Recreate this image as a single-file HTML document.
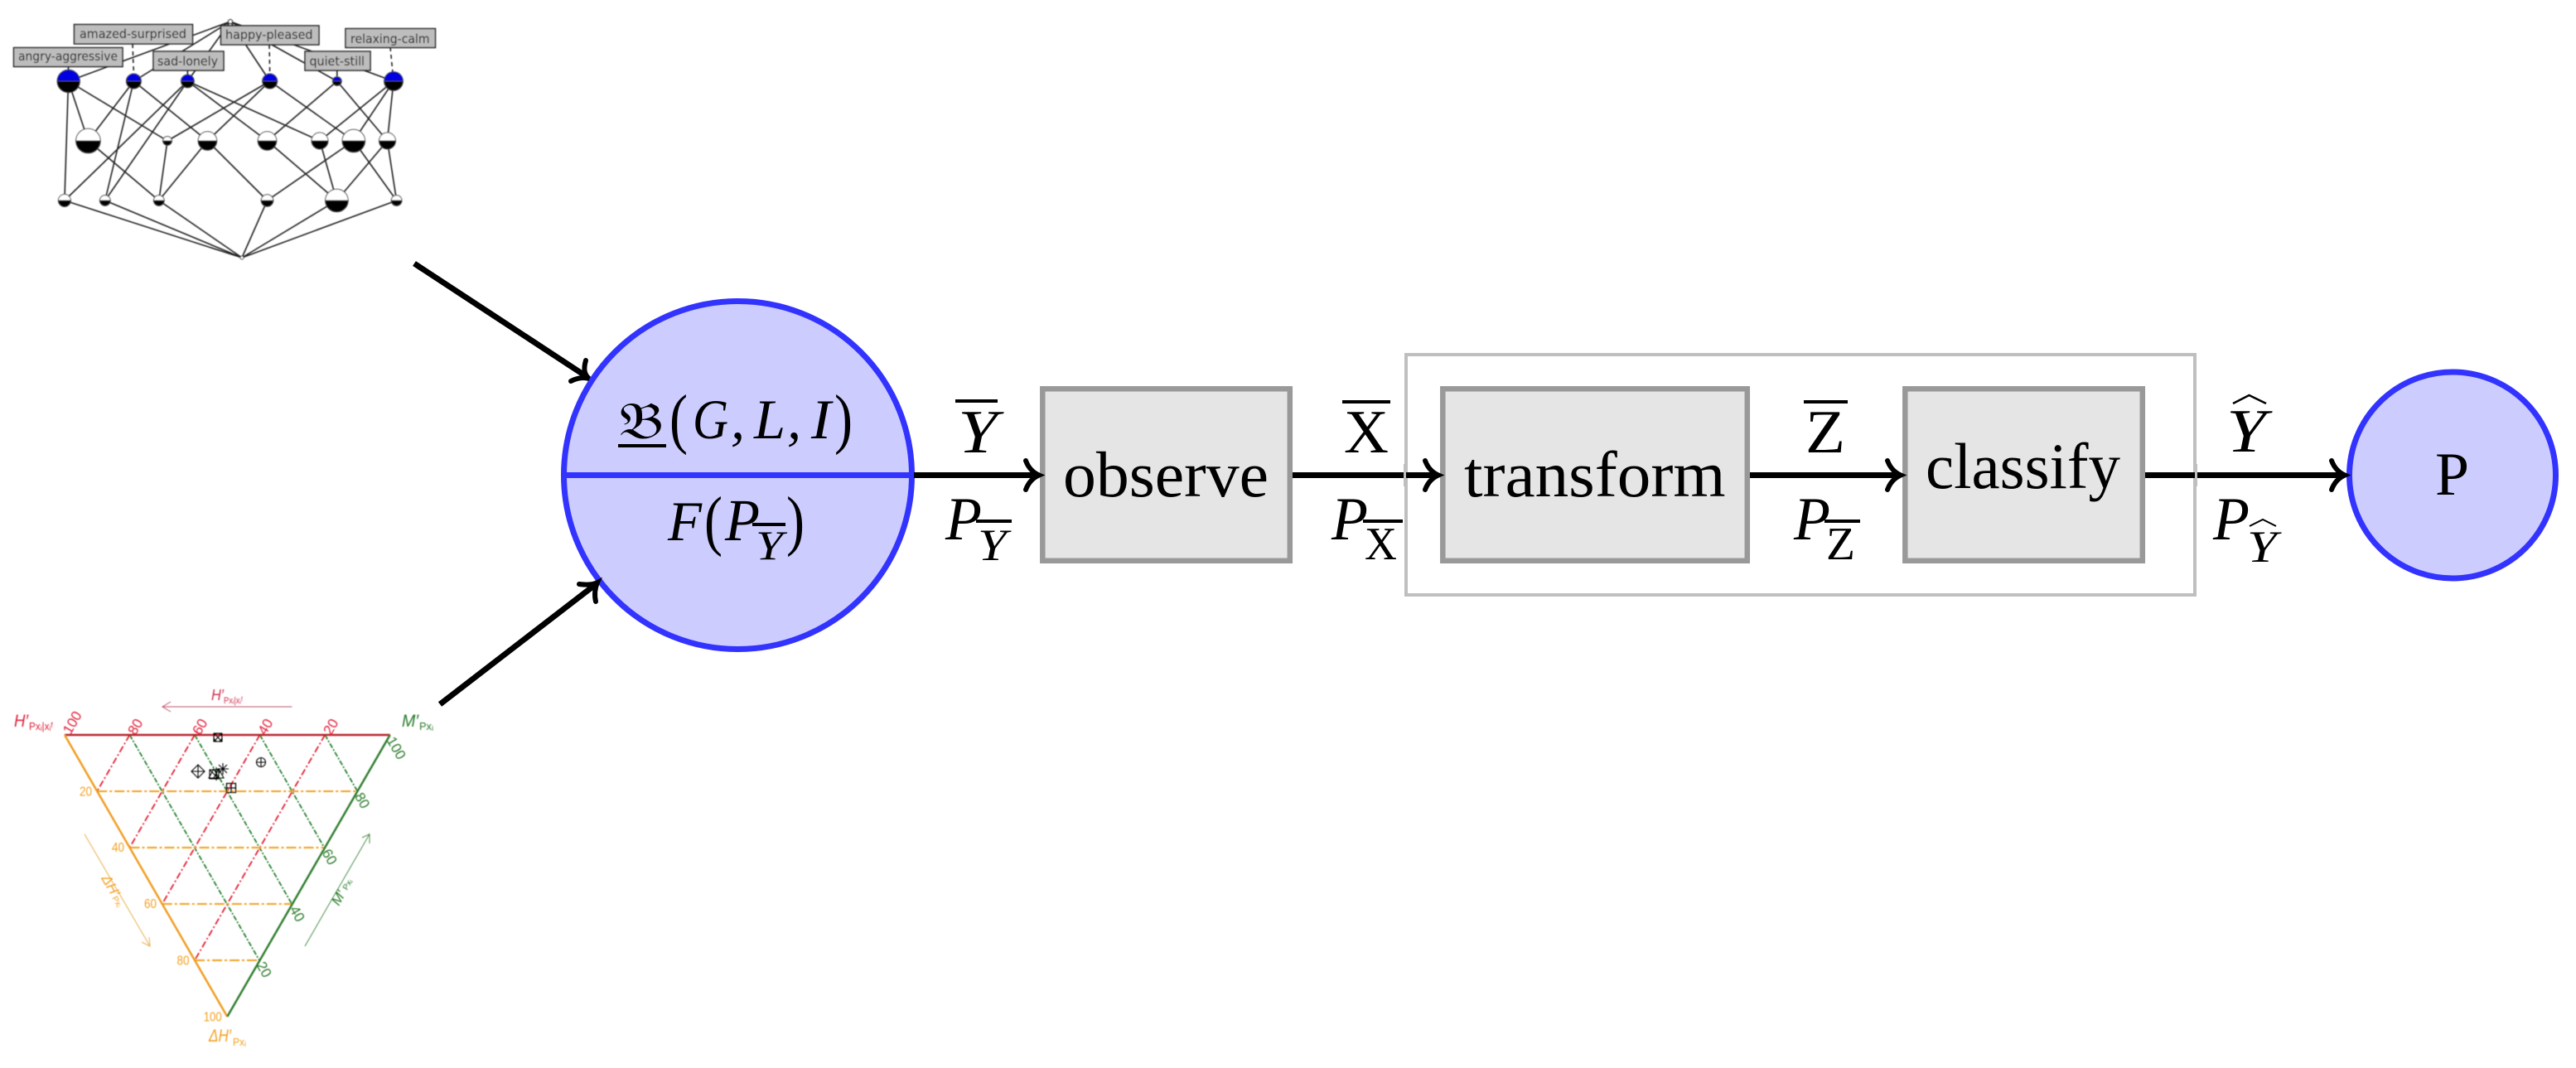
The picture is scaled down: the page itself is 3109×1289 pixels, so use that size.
<!DOCTYPE html>
<html><head><meta charset="utf-8"><style>
html,body{margin:0;padding:0;background:#fff}
svg{display:block}
.m{font-family:"Liberation Serif",serif;font-style:italic;fill:#000}
.r{font-family:"Liberation Serif",serif;fill:#000}
.l{font-family:"DejaVu Sans","Liberation Sans",sans-serif;font-size:15.5px;fill:#111}
.s{font-family:"Liberation Sans",sans-serif}
.si{font-family:"Liberation Sans",sans-serif;font-style:italic}
</style></head><body>
<svg xmlns="http://www.w3.org/2000/svg" width="3109" height="1289" viewBox="0 0 3109 1289">
<defs><filter id="b" x="-5%" y="-5%" width="110%" height="110%"><feGaussianBlur stdDeviation="0.45"/></filter></defs>
<rect width="3109" height="1289" fill="#fff"/>

<!-- lattice -->
<g filter="url(#b)">
<g stroke="#222" stroke-width="1.6" fill="none">
<path d="M278 26L82.5 98M278 26L161.4 98M278 26L226.4 98M278 26L325.7 98M278 26L406.8 98M278 26L475 98"/>
<path d="M82.5 98L106.4 170M82.5 98L77.9 242M82.5 98L202 170M161.4 98L106.4 170M161.4 98L126.8 242M161.4 98L250.4 170M226.4 98L77.9 242M226.4 98L126.8 242M226.4 98L322.5 170M226.4 98L386 170M325.7 98L202 170M325.7 98L250.4 170M325.7 98L426.8 170M406.8 98L322.5 170M406.8 98L467.5 170M475 98L386 170M475 98L426.8 170M475 98L467.5 170"/>
<path d="M106.4 170L191.8 242M202 170L191.8 242M250.4 170L191.8 242M250.4 170L322.5 242M322.5 170L406.4 242M386 170L406.4 242M426.8 170L322.5 242M467.5 170L406.4 242M426.8 170L478.6 242M467.5 170L478.6 242"/>
<path d="M77.9 242L292 311M126.8 242L292 311M191.8 242L292 311M322.5 242L292 311M406.4 242L292 311M478.6 242L292 311"/>
<path d="M82.5 80V86M226.4 85V90M406.8 85V92"/>
<path stroke-dasharray="5 4" d="M160 53L161.4 90M325 54L325.7 90M471 57L474 88"/>
</g>
<circle cx="278" cy="26" r="2.5" fill="#fff" stroke="#333" stroke-width="1.2"/>
<circle cx="292" cy="311" r="2" fill="#fff" stroke="#333" stroke-width="1"/>
<!-- top row: blue/black -->
<g stroke="#444" stroke-width="1">
<path d="M69 98a13.7 13.7 0 0 1 27.4 0z" fill="#0000e0"/><path d="M69 98a13.7 13.7 0 0 0 27.4 0z" fill="#000"/>
<path d="M152.4 98a9 9 0 0 1 18 0z" fill="#0000e0"/><path d="M152.4 98a9 9 0 0 0 18 0z" fill="#000"/>
<path d="M218.5 98a7.9 7.9 0 0 1 15.8 0z" fill="#0000e0"/><path d="M218.5 98a7.9 7.9 0 0 0 15.8 0z" fill="#000"/>
<path d="M316.7 98a9 9 0 0 1 18 0z" fill="#0000e0"/><path d="M316.7 98a9 9 0 0 0 18 0z" fill="#000"/>
<path d="M401.4 98a5.4 5.4 0 0 1 10.8 0z" fill="#0000e0"/><path d="M401.4 98a5.4 5.4 0 0 0 10.8 0z" fill="#000"/>
<path d="M463.6 98a11.4 11.4 0 0 1 22.8 0z" fill="#0000e0"/><path d="M463.6 98a11.4 11.4 0 0 0 22.8 0z" fill="#000"/>
<!-- mid row -->
<path d="M91.6 170a14.8 14.8 0 0 1 29.6 0z" fill="#fff"/><path d="M91.6 170a14.8 14.8 0 0 0 29.6 0z" fill="#000"/>
<path d="M196.6 170a5.4 5.4 0 0 1 10.8 0z" fill="#fff"/><path d="M196.6 170a5.4 5.4 0 0 0 10.8 0z" fill="#000"/>
<path d="M239.1 170a11.3 11.3 0 0 1 22.6 0z" fill="#fff"/><path d="M239.1 170a11.3 11.3 0 0 0 22.6 0z" fill="#000"/>
<path d="M311.2 170a11.3 11.3 0 0 1 22.6 0z" fill="#fff"/><path d="M311.2 170a11.3 11.3 0 0 0 22.6 0z" fill="#000"/>
<path d="M376 170a10 10 0 0 1 20 0z" fill="#fff"/><path d="M376 170a10 10 0 0 0 20 0z" fill="#000"/>
<path d="M413 170a13.8 13.8 0 0 1 27.6 0z" fill="#fff"/><path d="M413 170a13.8 13.8 0 0 0 27.6 0z" fill="#000"/>
<path d="M457.5 170a10 10 0 0 1 20 0z" fill="#fff"/><path d="M457.5 170a10 10 0 0 0 20 0z" fill="#000"/>
<!-- bottom row -->
<path d="M70.4 242a7.5 7.5 0 0 1 15 0z" fill="#fff"/><path d="M70.4 242a7.5 7.5 0 0 0 15 0z" fill="#000"/>
<path d="M120.4 242a6.4 6.4 0 0 1 12.8 0z" fill="#fff"/><path d="M120.4 242a6.4 6.4 0 0 0 12.8 0z" fill="#000"/>
<path d="M185.4 242a6.4 6.4 0 0 1 12.8 0z" fill="#fff"/><path d="M185.4 242a6.4 6.4 0 0 0 12.8 0z" fill="#000"/>
<path d="M315.2 242a7.3 7.3 0 0 1 14.6 0z" fill="#fff"/><path d="M315.2 242a7.3 7.3 0 0 0 14.6 0z" fill="#000"/>
<path d="M392.6 242a13.8 13.8 0 0 1 27.6 0z" fill="#fff"/><path d="M392.6 242a13.8 13.8 0 0 0 27.6 0z" fill="#000"/>
<path d="M472.2 242a6.4 6.4 0 0 1 12.8 0z" fill="#fff"/><path d="M472.2 242a6.4 6.4 0 0 0 12.8 0z" fill="#000"/>
</g>
<g fill="#bdbdbd" stroke="#222" stroke-width="1.5">
<rect x="89.5" y="29.5" width="143" height="23.5"/>
<rect x="16.5" y="57.5" width="131.5" height="23"/>
<rect x="185" y="62" width="85" height="23"/>
<rect x="266.5" y="31" width="118.5" height="23"/>
<rect x="368" y="62" width="79" height="23"/>
<rect x="417" y="34.5" width="108.5" height="23"/>
</g>
<text class="l" x="96" y="46" textLength="129" lengthAdjust="spacingAndGlyphs">amazed-surprised</text>
<text class="l" x="22" y="73" textLength="120" lengthAdjust="spacingAndGlyphs">angry-aggressive</text>
<text class="l" x="190" y="79" textLength="73" lengthAdjust="spacingAndGlyphs">sad-lonely</text>
<text class="l" x="272" y="47" textLength="105.5" lengthAdjust="spacingAndGlyphs">happy-pleased</text>
<text class="l" x="373.5" y="79" textLength="66.5" lengthAdjust="spacingAndGlyphs">quiet-still</text>
<text class="l" x="423" y="52" textLength="95.6" lengthAdjust="spacingAndGlyphs">relaxing-calm</text>
</g>

<!-- ternary plot -->
<g filter="url(#b)">
<g fill="none" stroke-width="1.7">
<g stroke="#e0132c" stroke-dasharray="8 3 2 3">
<path d="M156.5 887L117.2 955M235 887L156.5 1023M313.6 887L195.8 1091M392.2 887L235 1159"/>
</g>
<g stroke="#1f7a28" stroke-dasharray="6 2 2 2">
<path d="M156.5 887L313 1159M235 887L352.2 1091M313.6 887L391.4 1023M392.2 887L431.4 955"/>
</g>
<g stroke="#f2a020" stroke-dasharray="12 3 3 3" stroke-width="2">
<path d="M117.2 955H431.4M156.5 1023H392M195.8 1091H352.8M235 1159H313.5"/>
</g>
<path d="M78 887H470.7" stroke="#b5232a" stroke-width="2.4"/>
<path d="M78 887L274.3 1227" stroke="#f09a1c" stroke-width="2.4"/>
<path d="M470.7 887L274.3 1227" stroke="#2b7a2b" stroke-width="2.4"/>
<path d="M352.5 853H196M206 847L196 853L206 859" stroke="#c0566a" stroke-width="1"/>
<path d="M102 1006.7L181 1142M180 1131L181 1142L171 1137" stroke="#e8b050" stroke-width="1"/>
<path d="M368 1142L446 1006.7M437 1011L446 1006.7L446 1018" stroke="#4e8f4e" stroke-width="1"/>
</g>
<g class="s" font-size="17" fill="#e0203a">
<text transform="translate(87 872) rotate(-60)" text-anchor="middle" dy="6">100</text>
<text transform="translate(163 877) rotate(-60)" text-anchor="middle" dy="6">80</text>
<text transform="translate(241 877) rotate(-60)" text-anchor="middle" dy="6">60</text>
<text transform="translate(320 877) rotate(-60)" text-anchor="middle" dy="6">40</text>
<text transform="translate(399 877) rotate(-60)" text-anchor="middle" dy="6">20</text>
</g>
<g class="s" font-size="17" fill="#2b7a2b">
<text transform="translate(478.6 902.7) rotate(60)" text-anchor="middle" dy="6">100</text>
<text transform="translate(437.5 966) rotate(60)" text-anchor="middle" dy="6">80</text>
<text transform="translate(398 1034) rotate(60)" text-anchor="middle" dy="6">60</text>
<text transform="translate(359 1102.7) rotate(60)" text-anchor="middle" dy="6">40</text>
<text transform="translate(319 1170) rotate(60)" text-anchor="middle" dy="6">20</text>
</g>
<g class="s" font-size="16" fill="#f2a020">
<text x="96" y="960.5" textLength="15" lengthAdjust="spacingAndGlyphs">20</text><text x="135" y="1028" textLength="15" lengthAdjust="spacingAndGlyphs">40</text><text x="174" y="1096" textLength="15" lengthAdjust="spacingAndGlyphs">60</text><text x="213.5" y="1164.5" textLength="15" lengthAdjust="spacingAndGlyphs">80</text><text x="245.7" y="1232.5" textLength="22" lengthAdjust="spacingAndGlyphs">100</text>
</g>
<g fill="#e0203a">
<text class="si" x="17" y="877" font-size="21" textLength="17" lengthAdjust="spacingAndGlyphs">H′</text>
<text class="s" x="35" y="881" font-size="12.5" textLength="29" lengthAdjust="spacingAndGlyphs">Pxᵢ|xᵢᶠ</text>
<text class="si" x="255" y="845" font-size="18" fill="#d03050" textLength="15" lengthAdjust="spacingAndGlyphs">H′</text>
<text class="s" x="270" y="849" font-size="11" textLength="23" lengthAdjust="spacingAndGlyphs" fill="#d03050">Pxᵢ|xᵢᶠ</text>
</g>
<g fill="#2b7a2b">
<text class="si" x="485" y="877" font-size="21" textLength="20" lengthAdjust="spacingAndGlyphs">M′</text>
<text class="s" x="506" y="881" font-size="12.5" textLength="17" lengthAdjust="spacingAndGlyphs">Pxᵢ</text>
<text class="si" font-size="17" transform="translate(409 1094) rotate(-60)">M′</text>
<text class="s" font-size="10" transform="translate(419 1075) rotate(-60)">Pxᵢ</text>
</g>
<g fill="#f2a020">
<text class="si" x="252" y="1257" font-size="21" textLength="27" lengthAdjust="spacingAndGlyphs">ΔH′</text>
<text class="s" x="281" y="1262" font-size="12.5" textLength="16" lengthAdjust="spacingAndGlyphs">Pxᵢ</text>
<text class="si" font-size="17" transform="translate(122 1060) rotate(60)">ΔH′</text>
<text class="s" font-size="10" transform="translate(135 1084) rotate(60)">Pxᵢ</text>
</g>
<!-- markers -->
<g fill="none" stroke="#000" stroke-width="1.1">
<path d="M258 885h10v10h-10zM258 885l10 10M268 885l-10 10"/><circle cx="263" cy="890" r="5"/>
<circle cx="315" cy="920" r="5.5"/><path d="M309.5 920h11M315 914.5v11"/>
<path d="M239 923l8 8l-8 8l-8-8zM231 931h16M239 923v16"/>
<path d="M269 921v14M262 928h14M264 923l10 10M274 923l-10 10"/>
<path d="M253 929h11v11h-11zM258 928l6 11h-12zM264 928l6 11h-12zM261 926v16M253 929l11 11"/>
<path d="M273.5 945.500h11v11h-11zM279 945.500v11M273.5 951h11" stroke-width="1.3"/>
</g>
</g>

<!-- grey enclosure -->
<rect x="1697" y="428" width="952" height="290" fill="none" stroke="#bfbfbf" stroke-width="4"/>

<!-- main circle -->
<circle cx="890.500" cy="573.500" r="210" fill="#ccccff" stroke="#3333ff" stroke-width="7"/>
<path d="M680 573.500H1101" stroke="#3333ff" stroke-width="7"/>
<circle cx="2960" cy="573.500" r="124.500" fill="#ccccff" stroke="#3333ff" stroke-width="7"/>

<!-- boxes -->
<g fill="#e5e5e5" stroke="#999" stroke-width="6.500">
<rect x="1258.300" y="469.300" width="298.500" height="207.500"/>
<rect x="1741.300" y="469.300" width="367.500" height="207.500"/>
<rect x="2299.300" y="469.300" width="286.500" height="207.500"/>
</g>

<!-- arrows -->
<g fill="none" stroke="#000" stroke-width="7">
<path d="M1103 573.500H1250M1560 573.500H1733M2112 573.500H2291M2589 573.500H2827"/>
<path d="M500 318L708 454.500"/>
<path d="M531 850L718 706"/>
<g stroke-width="6" stroke-linecap="round">
<path d="M1238 556C1241 564 1246 570 1254 573.500C1246 577 1241 583 1238 591"/>
<path d="M1720 556C1723 564 1728 570 1736 573.500C1728 577 1723 583 1720 591"/>
<path d="M2278 556C2281 564 2286 570 2294 573.500C2286 577 2281 583 2278 591"/>
<path d="M2814 556C2817 564 2822 570 2830 573.500C2822 577 2817 583 2814 591"/>
<path d="M707 435C704 445 705 452 711 457C704 455 697 456 689 460"/>
<path d="M699 705C707 706 715 706 721 703C718 710 717 717 719 726"/>
</g>
</g>
<path d="M1694 560H1697V587H1694z" fill="#bfbfbf"/>
<path d="M2649 560H2652V587H2649z" fill="#bfbfbf"/>

<!-- box labels -->
<text class="r" x="1283" y="599" font-size="78" textLength="248" lengthAdjust="spacingAndGlyphs">observe</text>
<text class="r" x="1767" y="599" font-size="78" textLength="315.500" lengthAdjust="spacingAndGlyphs">transform</text>
<text class="r" x="2324" y="589" font-size="78" textLength="235" lengthAdjust="spacingAndGlyphs">classify</text>
<text class="r" x="2939" y="597" font-size="74" textLength="41" lengthAdjust="spacingAndGlyphs">P</text>

<!-- circle text -->
<text x="747" y="529" font-size="62" textLength="54" lengthAdjust="spacingAndGlyphs" style="font-family:'DejaVu Serif','DejaVu Sans','Liberation Serif',serif">𝔅</text>
<rect x="746" y="536" width="58" height="4" fill="#000"/>
<text class="r" x="808" y="532" font-size="80" textLength="22" lengthAdjust="spacingAndGlyphs">(</text>
<text class="m" x="836" y="529" font-size="68" textLength="43" lengthAdjust="spacingAndGlyphs">G</text>
<text class="m" x="882" y="529" font-size="68">,</text>
<text class="m" x="910" y="529" font-size="68" textLength="38" lengthAdjust="spacingAndGlyphs">L</text>
<text class="m" x="950" y="529" font-size="68">,</text>
<text class="m" x="979" y="529" font-size="68" textLength="24" lengthAdjust="spacingAndGlyphs">I</text>
<text class="r" x="1007" y="532" font-size="80" textLength="22" lengthAdjust="spacingAndGlyphs">)</text>

<text class="m" x="806" y="652" font-size="68" textLength="41" lengthAdjust="spacingAndGlyphs">F</text>
<text class="r" x="850" y="655" font-size="80" textLength="22" lengthAdjust="spacingAndGlyphs">(</text>
<text class="m" x="875" y="652" font-size="72" textLength="42" lengthAdjust="spacingAndGlyphs">P</text>
<rect x="908" y="631" width="40" height="4" fill="#000"/>
<text class="m" x="912" y="675" font-size="50" textLength="33" lengthAdjust="spacingAndGlyphs">Y</text>
<text class="r" x="949" y="655" font-size="80" textLength="22" lengthAdjust="spacingAndGlyphs">)</text>

<!-- edge labels -->
<rect x="1153" y="482" width="51" height="4" fill="#000"/>
<text class="m" x="1156" y="546" font-size="74" textLength="48" lengthAdjust="spacingAndGlyphs">Y</text>
<text class="m" x="1141" y="651" font-size="74" textLength="44" lengthAdjust="spacingAndGlyphs">P</text>
<rect x="1178" y="627" width="43" height="4" fill="#000"/>
<text class="m" x="1180" y="676" font-size="54" textLength="35" lengthAdjust="spacingAndGlyphs">Y</text>

<rect x="1620" y="483" width="58" height="4" fill="#000"/>
<text class="r" x="1622" y="546" font-size="74" textLength="54" lengthAdjust="spacingAndGlyphs">X</text>
<text class="m" x="1607" y="651" font-size="74" textLength="44" lengthAdjust="spacingAndGlyphs">P</text>
<rect x="1645" y="627" width="48" height="4" fill="#000"/>
<text class="r" x="1647" y="675" font-size="56" textLength="39" lengthAdjust="spacingAndGlyphs">X</text>

<rect x="2177" y="483" width="53" height="4" fill="#000"/>
<text class="r" x="2179" y="546" font-size="74" textLength="48" lengthAdjust="spacingAndGlyphs">Z</text>
<text class="m" x="2165" y="651" font-size="74" textLength="44" lengthAdjust="spacingAndGlyphs">P</text>
<rect x="2202" y="627" width="43" height="4" fill="#000"/>
<text class="r" x="2204" y="675" font-size="56" textLength="35" lengthAdjust="spacingAndGlyphs">Z</text>

<path d="M2695 487L2714.500 477L2735 487" fill="none" stroke="#000" stroke-width="2.500"/>
<text class="m" x="2687" y="545" font-size="74" textLength="48" lengthAdjust="spacingAndGlyphs">Y</text>
<text class="m" x="2671" y="651" font-size="74" textLength="44" lengthAdjust="spacingAndGlyphs">P</text>
<path d="M2715 635L2731 627L2747 635" fill="none" stroke="#000" stroke-width="2"/>
<text class="m" x="2712" y="678" font-size="54" textLength="36" lengthAdjust="spacingAndGlyphs">Y</text>
</svg>
</body></html>
